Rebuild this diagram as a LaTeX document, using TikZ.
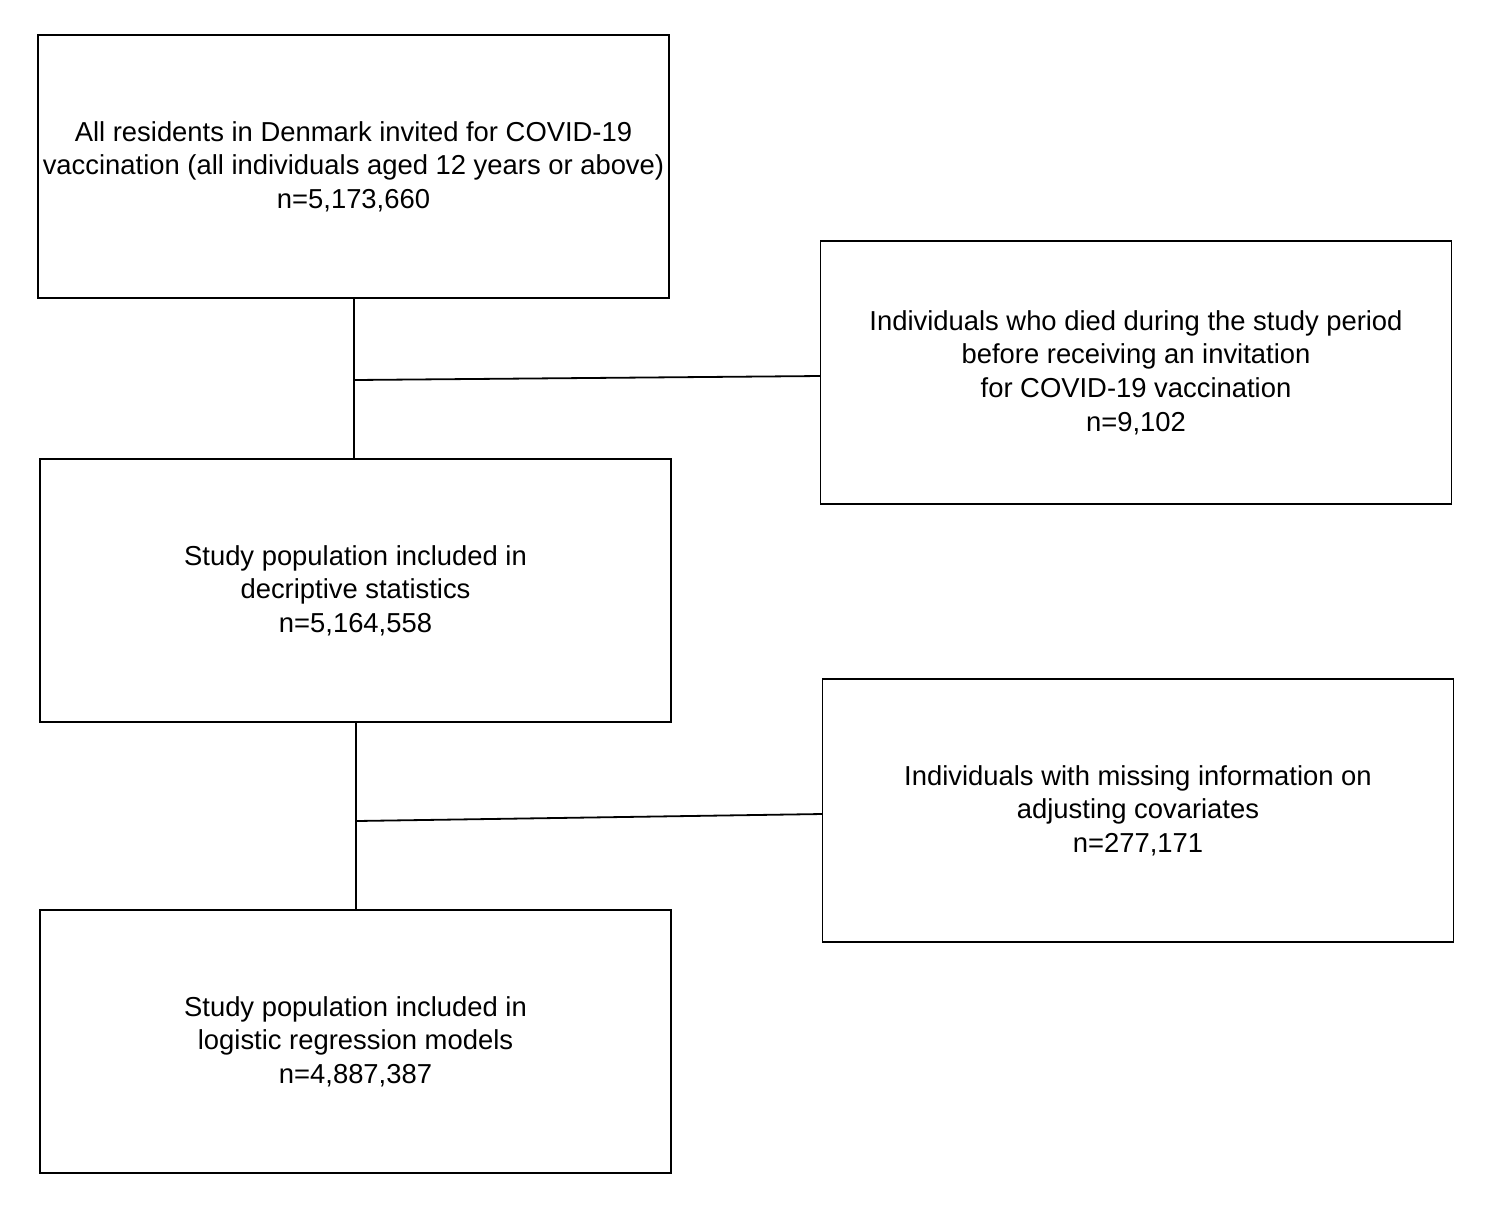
\documentclass[tikz,border=0pt]{standalone}
\usepackage{fontspec}
\setmainfont{Liberation Sans}
\begin{document}
\begin{tikzpicture}[x=0.5pt,y=-0.5pt,
  boxnode/.style={draw=black, line width=0.9pt, minimum width=315.5pt, minimum height=131.5pt,
    align=center, inner sep=0pt, font=\fontsize{13.7}{16.8}\selectfont},
  conn/.style={draw=black, line width=0.9pt}]
\useasboundingbox (0,0) rectangle (1488,1207);
\node[boxnode] (b1) at (353.5,166.5) {All residents in Denmark invited for COVID-19\\vaccination (all individuals aged 12 years or above)\\n=5,173,660};
\node[boxnode] (b2) at (1136,372.5) {Individuals who died during the study period\\before receiving an invitation\\for COVID-19 vaccination\\n=9,102};
\node[boxnode] (b3) at (355.5,590.5) {Study population included in\\decriptive statistics\\n=5,164,558};
\node[boxnode] (b4) at (1138,810.5) {Individuals with missing information on\\adjusting covariates\\n=277,171};
\node[boxnode] (b5) at (355.5,1041.5) {Study population included in\\logistic regression models\\n=4,887,387};
\coordinate (j1) at (354,380);
\coordinate (e1) at (820,376);
\coordinate (j2) at (356,821);
\coordinate (e2) at (822,814);
\draw[conn] (b1.south -| j1) -- (b3.north -| j1);
\draw[conn] (j1) -- (e1);
\draw[conn] (b3.south -| j2) -- (b5.north -| j2);
\draw[conn] (j2) -- (e2);
\end{tikzpicture}
\end{document}
